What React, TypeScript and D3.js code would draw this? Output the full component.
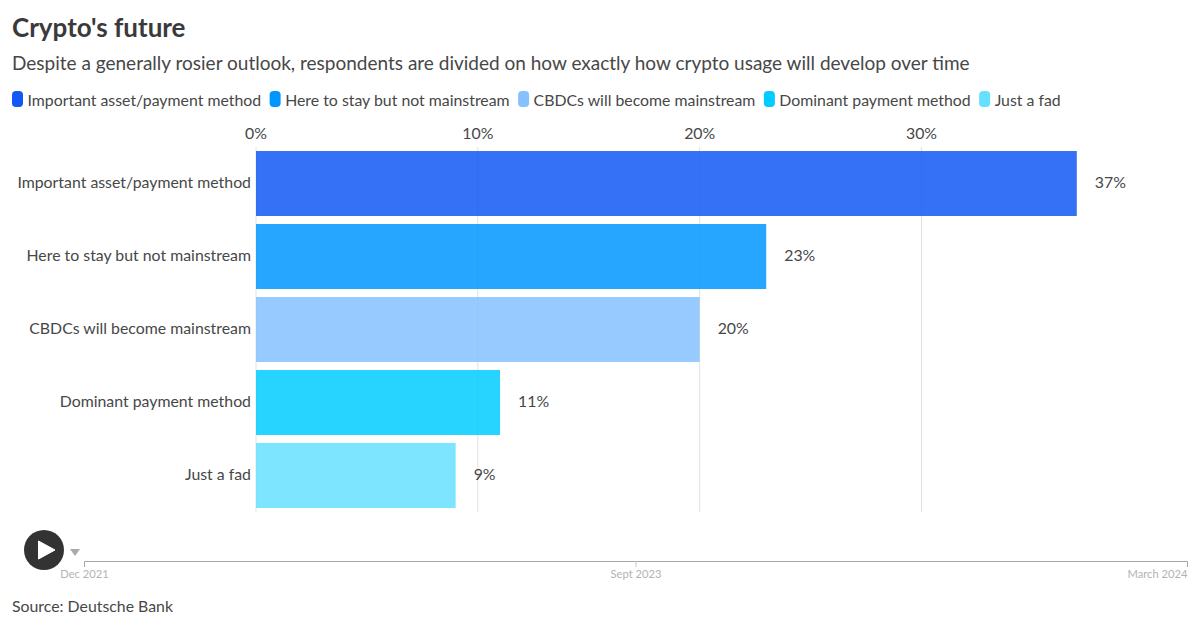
import * as d3 from 'd3';
import { useEffect, useRef } from 'react';

const categories = [
  'Important asset/payment method',
  'Here to stay but not mainstream',
  'CBDCs will become mainstream',
  'Dominant payment method',
  'Just a fad',
];
const values = [37, 23, 20, 11, 9];
const colors = ['#1258f6', '#0096ff', '#85c1ff', '#00ccff', '#66e0ff'];
const xTicks = [0, 10, 20, 30];
const timeLabels = ['Dec 2021', 'Sept 2023', 'March 2024'];

const FONT = 'Lato, sans-serif';
const INK = '#474747';
const LABEL_SIZE = '15.85px';

const App = () => {
  const svgRef = useRef<SVGSVGElement | null>(null);

  useEffect(() => {
    if (!svgRef.current) return;
    document.body.style.margin = '0';

    const svg = d3.select(svgRef.current);
    svg.selectAll('*').remove();
    svg.style('font-family', FONT);

    // Header
    svg.append('text').attr('x', 12).attr('y', 37)
      .style('font-size', '26px').style('font-weight', 700).style('fill', '#3a3a3a')
      .text("Crypto's future");
    svg.append('text').attr('x', 12).attr('y', 70)
      .style('font-size', '19px').style('fill', INK)
      .text('Despite a generally rosier outlook, respondents are divided on how exactly how crypto usage will develop over time');

    // Legend, laid out from the measured label widths
    let cursor = 12;
    categories.forEach((name, i) => {
      svg.append('rect').attr('x', cursor).attr('y', 91)
        .attr('width', 11).attr('height', 16).attr('rx', 4)
        .attr('fill', colors[i]);
      const label = svg.append('text').attr('x', cursor + 15.5).attr('y', 105.5)
        .style('font-size', LABEL_SIZE).style('fill', INK)
        .text(name);
      cursor += 15.5 + (label.node()?.getComputedTextLength() || 0) + 8.5;
    });

    // Scales
    const x = d3.scaleLinear().domain([0, 30]).range([256, 921.5]);
    const y = d3.scaleBand()
      .domain(categories)
      .range([147, 512])
      .paddingInner(0.11)
      .paddingOuter(0.055);

    // Grid lines and top axis labels
    svg.append('g').selectAll('line').data(xTicks).join('line')
      .attr('x1', d => x(d)).attr('x2', d => x(d))
      .attr('y1', 147).attr('y2', 512)
      .attr('stroke', '#e2e2e2').attr('stroke-width', 1);
    svg.append('g').selectAll('text').data(xTicks).join('text')
      .attr('x', d => x(d)).attr('y', 139)
      .attr('text-anchor', 'middle')
      .style('font-size', LABEL_SIZE).style('fill', INK)
      .text(d => `${d}%`);

    // Bars
    svg.append('g').selectAll('rect').data(categories).join('rect')
      .attr('x', x(0))
      .attr('y', d => y(d) || 0)
      .attr('width', (d, i) => x(values[i]) - x(0))
      .attr('height', y.bandwidth())
      .attr('fill', (d, i) => colors[i])
      .attr('fill-opacity', 0.85);

    // Category labels
    svg.append('g').selectAll('text').data(categories).join('text')
      .attr('x', 251)
      .attr('y', d => (y(d) || 0) + y.bandwidth() / 2 - 1.5)
      .attr('dy', '0.35em')
      .attr('text-anchor', 'end')
      .style('font-size', LABEL_SIZE).style('fill', INK)
      .text(d => d);

    // Value labels
    svg.append('g').selectAll('text').data(categories).join('text')
      .attr('x', (d, i) => x(values[i]) + 18)
      .attr('y', d => (y(d) || 0) + y.bandwidth() / 2 - 1.5)
      .attr('dy', '0.35em')
      .style('font-size', LABEL_SIZE).style('fill', INK)
      .text((d, i) => `${values[i]}%`);

    // Play button
    svg.append('circle').attr('cx', 44).attr('cy', 550).attr('r', 20).attr('fill', '#333');
    svg.append('path').attr('d', 'M38.5 541 L55 550 L38.5 559 Z')
      .attr('fill', '#fff').attr('stroke', '#fff').attr('stroke-width', 1).attr('stroke-linejoin', 'round');
    svg.append('path').attr('d', 'M70 549 L80 549 L75 556 Z').attr('fill', '#aaa');

    // Time slider
    const t = d3.scalePoint().domain(timeLabels).range([84.5, 1187.5]);
    svg.append('line').attr('x1', 84.5).attr('x2', 1187.5)
      .attr('y1', 561.5).attr('y2', 561.5)
      .attr('stroke', '#a8a8a8').attr('stroke-width', 1);
    svg.append('g').selectAll('line').data(timeLabels).join('line')
      .attr('x1', d => t(d) || 0).attr('x2', d => t(d) || 0)
      .attr('y1', 561.5).attr('y2', 567)
      .attr('stroke', (d, i) => (i === 1 ? '#c8c8c8' : '#a8a8a8'));
    svg.append('g').selectAll('text').data(timeLabels).join('text')
      .attr('x', d => t(d) || 0)
      .attr('y', 578)
      .attr('text-anchor', (d, i) => (i === 2 ? 'end' : 'middle'))
      .style('font-size', '11.2px').style('fill', '#b3b3b3')
      .text(d => d);

    // Source
    svg.append('text').attr('x', 12).attr('y', 612)
      .style('font-size', LABEL_SIZE).style('fill', INK)
      .text('Source: Deutsche Bank');
  }, []);

  return <svg ref={svgRef} width={1200} height={627} style={{ display: 'block', background: '#fff' }}></svg>;
};

export default App;
